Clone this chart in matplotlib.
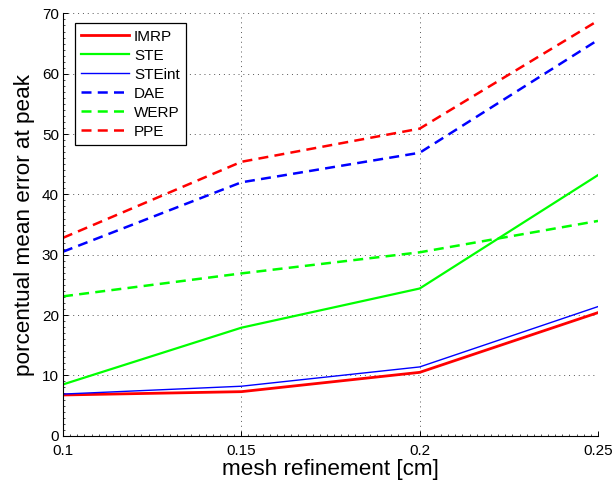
import numpy as np
import matplotlib
matplotlib.use('Agg')
import matplotlib.pyplot as plt
from matplotlib.ticker import MultipleLocator

plt.rcParams['font.family'] = ['Liberation Sans', 'DejaVu Sans']

# data
mesh = [0.1, 0.15, 0.2, 0.25]
imrp = [6.75, 7.3, 10.5, 20.4]
ste = [8.5, 17.9, 24.4, 43.2]
ste_int = [6.9, 8.2, 11.4, 21.4]
dae = [30.5, 42.0, 46.9, 65.6]
werp = [23.1, 26.9, 30.4, 35.6]
ppe = [32.8, 45.4, 50.9, 68.8]

fig = plt.figure(figsize=(6.13, 4.86), dpi=100, facecolor='white')
ax = fig.add_axes([0.1028, 0.1035, 0.8727, 0.8689])

dash = (4, 2.5)
ax.plot(mesh, imrp, color='#ff0000', lw=2.0, label='IMRP')
ax.plot(mesh, ste, color='#00ff00', lw=1.6, label='STE')
ax.plot(mesh, ste_int, color='#0000ff', lw=1.0, label='STEint')
ax.plot(mesh, dae, color='#0000ff', lw=1.8, dashes=dash, label='DAE')
ax.plot(mesh, werp, color='#00ff00', lw=1.8, dashes=dash, label='WERP')
ax.plot(mesh, ppe, color='#ff0000', lw=1.8, dashes=dash, label='PPE')

ax.set_xlim(0.1, 0.25)
ax.set_ylim(0, 70)
ax.set_xticks([0.1, 0.15, 0.2, 0.25])
ax.set_xticklabels(['0.1', '0.15', '0.2', '0.25'])
ax.set_yticks(np.arange(0, 71, 10))
ax.xaxis.set_minor_locator(MultipleLocator(0.002))
ax.yaxis.set_minor_locator(MultipleLocator(1))

# matlab look: box off, dotted grid, ticks inside
ax.spines['top'].set_visible(False)
ax.spines['right'].set_visible(False)
for s in ['left', 'bottom']:
    ax.spines[s].set_linewidth(0.8)
ax.grid(True, which='major', color='#555555', linestyle=(0, (1, 4)), linewidth=0.7)
ax.set_axisbelow(True)
ax.tick_params(which='major', direction='in', length=3.5, width=0.7, labelsize=11)
ax.tick_params(axis='x', which='major', pad=6)
ax.tick_params(axis='y', which='major', pad=3)
ax.tick_params(which='minor', direction='in', length=1.5, width=0.5)

ax.set_xlabel('mesh refinement [cm]', fontsize=16.2, labelpad=1)
ax.set_ylabel('porcentual mean error at peak', fontsize=16.2, labelpad=5)

leg = ax.legend(loc='upper left', bbox_to_anchor=(0.022, 0.977), borderaxespad=0,
                fontsize=11, handlelength=3.15, handletextpad=0.3,
                labelspacing=0.33, borderpad=0.42, fancybox=False, framealpha=1)
leg.get_frame().set_edgecolor('black')
leg.get_frame().set_linewidth(0.9)

plt.savefig('out.png', dpi=100, facecolor='white')
